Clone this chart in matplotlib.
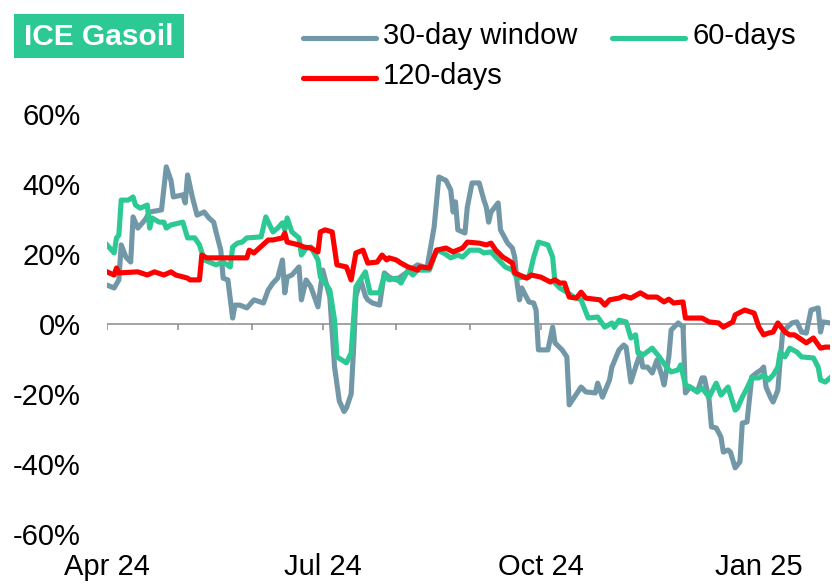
import pandas as pd
import numpy as np
import matplotlib
matplotlib.use("Agg")
import matplotlib.pyplot as plt
import matplotlib.dates as mdates
from matplotlib.lines import Line2D
from matplotlib.patches import Rectangle

plt.rcParams["font.family"] = ["Liberation Sans", "DejaVu Sans"]

# ==========================
# DATA
# days counted from 1 Apr 2024, values in %
# ==========================

start = pd.Timestamp("2024-04-01")

d30 = [0, 3, 5, 6, 8, 10, 11, 13, 16, 18, 23, 25, 27, 28, 32, 33, 34, 36, 38, 41,
       43, 45, 46, 48, 49, 51, 53, 54, 56, 59, 62, 66, 68, 70, 72, 74, 75, 76, 78, 81,
       82, 84, 86, 89, 91, 94, 96, 98, 100, 101, 103, 104, 105, 107, 109, 110, 112, 115, 117, 119,
       122, 131, 135, 138, 140, 143, 145, 146, 147, 148, 151, 152, 154, 157, 159, 160, 161, 162, 165, 166,
       169, 171, 172, 173, 174, 175, 176, 178, 180, 181, 182, 186, 188, 189, 192, 194, 195, 200, 202, 206,
       207, 209, 212, 213, 216, 218, 219, 221, 223, 225, 226, 228, 230, 232, 234, 235, 237, 238, 241, 243,
       244, 246, 249, 251, 252, 254, 255, 257, 259, 260, 262, 263, 265, 267, 268, 270, 272, 274, 276, 277,
       278, 280, 281, 283, 284, 285, 287, 289, 291, 293, 295, 297, 300, 301, 302, 305]
v30 = [11.1, 10.3, 12.6, 22.6, 19.1, 17.7, 30.6, 27.4, 29.7, 32.0, 32.6, 44.9, 41.0, 36.3, 36.9, 34.6, 42.6, 36.3, 31.1, 32.0,
       30.3, 29.1, 26.3, 21.1, 13.1, 12.6, 1.7, 5.4, 5.4, 4.6, 6.9, 6.0, 9.7, 11.7, 13.1, 18.3, 8.9, 13.4, 14.0, 16.3,
       6.9, 12.6, 10.6, 4.9, 15.4, 7.7, -12.3, -22.0, -25.0, -24.0, -20.0, -7.4, 8.0, 12.6, 8.0, 6.9, 6.0, 5.4, 14.6, 13.4,
       12.6, 16.9, 16.0, 27.7, 42.0, 41.0, 38.3, 32.0, 34.9, 26.9, 26.0, 33.4, 40.3, 40.3, 35.4, 33.4, 29.1, 32.0, 34.6, 26.9,
       23.1, 21.7, 19.1, 11.7, 6.9, 10.3, 8.9, 6.3, 6.0, 4.0, -7.4, -7.4, -0.9, -5.4, -7.4, -9.4, -23.1, -18.0, -19.4, -19.7,
       -16.9, -20.9, -16.0, -12.3, -7.4, -6.0, -6.6, -16.6, -12.3, -8.3, -12.3, -12.3, -14.0, -10.3, -14.6, -17.4, -9.4, -1.7, 0.3, -0.9,
       -19.7, -18.0, -19.4, -15.4, -15.4, -21.7, -29.4, -29.7, -32.3, -36.6, -36.0, -36.6, -41.1, -39.4, -28.3, -28.0, -15.1, -14.0, -13.1, -12.3,
       -18.0, -21.1, -22.3, -18.9, -10.3, -2.6, -0.9, 0.3, 0.6, -2.3, -2.6, 4.0, 4.6, -2.3, 0.6, 0.3]

d60 = [0, 3, 4, 5, 6, 9, 11, 12, 14, 17, 18, 19, 22, 24, 25, 27, 32, 34, 37, 39,
       41, 46, 49, 52, 53, 55, 57, 59, 65, 67, 70, 72, 74, 75, 76, 78, 81, 82, 84, 86,
       89, 90, 92, 94, 96, 97, 101, 103, 105, 109, 111, 115, 117, 119, 122, 124, 127, 129, 131, 136,
       139, 142, 145, 148, 150, 153, 157, 159, 162, 164, 166, 168, 171, 173, 176, 178, 180, 182, 186, 188,
       189, 191, 194, 197, 200, 203, 207, 210, 213, 214, 216, 219, 221, 223, 224, 226, 230, 233, 236, 238,
       241, 242, 244, 246, 249, 251, 254, 257, 259, 262, 263, 265, 266, 268, 270, 272, 275, 277, 279, 281,
       283, 284, 286, 288, 291, 293, 298, 300, 301, 303, 305]
v60 = [22.6, 20.3, 24.6, 25.4, 35.4, 35.4, 36.3, 34.0, 33.1, 34.0, 27.4, 30.3, 29.1, 29.1, 27.4, 28.3, 29.1, 24.6, 24.6, 22.6,
       18.3, 16.9, 17.7, 16.3, 22.0, 23.1, 23.4, 24.6, 24.9, 30.6, 26.3, 27.4, 28.9, 26.9, 30.3, 26.3, 24.6, 19.7, 21.7, 22.0,
       18.3, 13.4, 11.7, 9.7, 1.1, -9.4, -11.1, -8.3, 10.6, 14.9, 8.9, 8.9, 14.0, 12.6, 13.1, 11.7, 15.4, 14.0, 15.4, 15.4,
       21.1, 20.3, 18.9, 19.7, 19.1, 21.1, 21.1, 20.3, 20.6, 19.1, 17.7, 16.3, 15.4, 13.1, 13.4, 13.4, 19.1, 23.4, 22.6, 19.1,
       11.7, 10.3, 9.1, 7.7, 6.9, 1.7, 2.0, -0.9, 0.3, -0.9, 1.1, 0.6, -4.0, -3.1, -8.3, -8.9, -6.9, -9.4, -12.3, -13.7,
       -13.1, -11.7, -17.4, -18.0, -19.4, -18.3, -20.9, -16.9, -20.3, -18.0, -20.3, -24.6, -24.0, -20.9, -18.3, -15.4, -15.4, -14.6, -16.0, -14.6,
       -12.3, -8.0, -9.4, -6.9, -8.0, -9.4, -9.7, -12.3, -16.0, -16.6, -15.4]

d120 = [0, 3, 4, 5, 13, 17, 20, 24, 27, 29, 34, 35, 39, 40, 42, 59, 60, 62, 68, 70,
        74, 75, 76, 81, 83, 86, 89, 90, 92, 95, 97, 101, 103, 105, 108, 110, 114, 116, 118, 119,
        122, 124, 127, 131, 132, 136, 139, 143, 146, 150, 152, 157, 160, 162, 164, 167, 169, 171, 172, 174,
        177, 179, 183, 187, 189, 191, 193, 195, 198, 200, 202, 208, 210, 212, 216, 218, 221, 225, 228, 232,
        235, 237, 239, 243, 244, 251, 254, 258, 260, 264, 265, 269, 273, 275, 277, 279, 281, 283, 286, 288,
        290, 292, 295, 298, 301, 303, 305]
v120 = [14.9, 14.0, 16.0, 14.6, 14.9, 14.0, 14.9, 14.0, 14.9, 14.0, 13.1, 12.6, 12.6, 19.7, 18.9, 18.9, 21.1, 20.3, 24.0, 24.0,
        24.6, 26.0, 23.4, 22.6, 22.0, 21.7, 20.6, 26.3, 26.9, 26.3, 16.9, 16.3, 12.6, 20.3, 21.1, 17.4, 17.7, 19.7, 18.3, 18.9,
        18.3, 17.4, 16.3, 15.4, 16.3, 16.0, 21.1, 21.7, 20.6, 21.7, 23.4, 23.1, 22.6, 23.1, 21.1, 19.1, 18.3, 17.4, 14.6, 14.0,
        13.1, 14.0, 13.4, 12.0, 12.6, 11.7, 11.7, 7.7, 7.4, 9.1, 7.4, 6.9, 5.4, 6.9, 7.4, 8.0, 7.4, 8.9, 7.7, 7.7,
        6.3, 7.1, 6.0, 6.3, 1.7, 1.7, 0.6, 0.3, -0.9, 0.6, 2.6, 4.0, 3.1, -0.9, -3.1, -2.6, -2.3, 0.3, -2.3, -3.1,
        -3.1, -4.0, -5.4, -4.0, -6.9, -6.6, -6.6]

series_labels = ["30-day window", "60-days", "120-days"]
series_colors = ["#7298a8", "#2cc995", "#ff0000"]

y_ticks = [-60, -40, -20, 0, 20, 40, 60]
x_label_dates = ["2024-04-01", "2024-07-01", "2024-10-01", "2025-01-01"]
x_label_text = ["Apr 24", "Jul 24", "Oct 24", "Jan 25"]


def to_dates(days):
    return start + pd.to_timedelta(days, unit="D")


# ==========================
# FIGURE
# ==========================

fig = plt.figure(figsize=(8.32, 5.86), dpi=100)
ax = fig.add_axes([107 / 832, 52 / 586, 723 / 832, 420 / 586])

lw = 3.7
ax.plot(to_dates(d120), v120, color=series_colors[2], lw=lw, zorder=3, solid_joinstyle="round")
ax.plot(to_dates(d60), v60, color=series_colors[1], lw=lw, zorder=2, solid_joinstyle="round")
ax.plot(to_dates(d30), v30, color=series_colors[0], lw=lw, zorder=1, solid_joinstyle="round")

# zero line with monthly tick marks
ax.axhline(0, color="#8a8a8a", lw=1.1, zorder=0)
months = pd.date_range("2024-04-01", "2025-01-01", freq="MS")
ax.vlines(months, -1.6, 0, color="#8a8a8a", lw=1.1, zorder=0)

ax.set_xlim(start, start + pd.Timedelta(days=305))
ax.set_ylim(-60, 60)

ax.set_yticks(y_ticks)
ax.set_yticklabels([f"{t}%" for t in y_ticks])
ax.set_xticks(pd.to_datetime(x_label_dates))
ax.set_xticklabels(x_label_text)

ax.tick_params(axis="y", length=0, pad=19, labelsize=21)
ax.tick_params(axis="x", length=0, pad=14, labelsize=21)

for s in ax.spines.values():
    s.set_visible(False)

# ==========================
# TITLE BOX
# ==========================

fig.add_artist(Rectangle((14 / 832, 1 - 58 / 586), 170 / 832, 44 / 586,
                         transform=fig.transFigure, facecolor="#2cc995",
                         edgecolor="none"))
fig.text(24 / 832, 1 - 37 / 586, "ICE Gasoil", color="white", fontsize=21.5,
         fontweight="bold", va="center", ha="left")

# ==========================
# LEGEND
# ==========================

legend_pos = [(303, 38), (612, 38), (303, 78)]
for (x0, y0), lab, col in zip(legend_pos, series_labels, series_colors):
    yy = 1 - y0 / 586
    fig.add_artist(Line2D([x0 / 832, (x0 + 73) / 832], [yy, yy],
                          transform=fig.transFigure, color=col, lw=lw,
                          solid_capstyle="round"))
    fig.text((x0 + 80) / 832, yy + 2 / 586, lab, fontsize=21, va="center", ha="left")

fig.savefig("out.png", dpi=100)
